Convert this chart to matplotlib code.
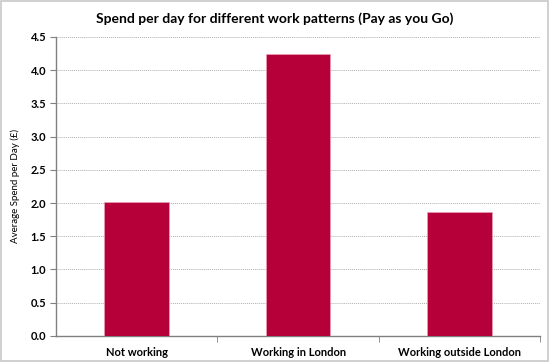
import matplotlib
matplotlib.use("Agg")
import matplotlib.pyplot as plt
from matplotlib.patches import Rectangle
from matplotlib.ticker import FixedLocator, NullFormatter

categories = ["Not working", "Working in London", "Working outside London"]
spend = [2.02, 4.24, 1.87]
y_ticks = [0.0, 0.5, 1.0, 1.5, 2.0, 2.5, 3.0, 3.5, 4.0, 4.5]

plt.rcParams['font.family'] = ['Lato', 'DejaVu Sans']

fig = plt.figure(figsize=(5.5, 3.62), dpi=100)
ax = fig.add_axes([0.102, 0.072, 0.880, 0.826])

x = range(len(categories))
ax.bar(x, spend, width=0.40, color="#B5003A", edgecolor="#E8A0B4", linewidth=0.5, zorder=3)

ax.set_xlim(-0.5, len(categories) - 0.5)
ax.set_ylim(0, 4.5)
ax.set_yticks(y_ticks)
ax.set_yticklabels([f"{v:.1f}" for v in y_ticks], fontsize=8, fontweight="bold")
ax.set_xticks(list(x))
ax.set_xticklabels(categories, fontsize=8, fontweight="bold")
ax.tick_params(axis="x", length=0, pad=8)
ax.xaxis.set_minor_locator(FixedLocator([0.5, 1.5, 2.5]))
ax.xaxis.set_minor_formatter(NullFormatter())
ax.tick_params(axis="x", which="minor", length=4, color="#808080", direction="out")
ax.tick_params(axis="y", length=4, color="#808080", direction="out", pad=3)

ax.grid(axis="y", linestyle=(0, (1, 1)), color="#B0B0B0", linewidth=0.7, zorder=0)
for s in ["top", "right"]:
    ax.spines[s].set_visible(False)
for s in ["left", "bottom"]:
    ax.spines[s].set_color("#808080")
    ax.spines[s].set_linewidth(1.0)

ax.set_ylabel("Average Spend per Day (£)", fontsize=7)
ax.yaxis.set_label_coords(-0.075, 0.5)
fig.suptitle("Spend per day for different work patterns (Pay as you Go)",
             fontsize=10, fontweight="bold", y=0.965)

fig.patches.append(Rectangle((0.002, 0.003), 0.995, 0.993, transform=fig.transFigure,
                             fill=False, edgecolor="#C8C8C8", linewidth=1.2))

fig.savefig("out.png", dpi=100)
